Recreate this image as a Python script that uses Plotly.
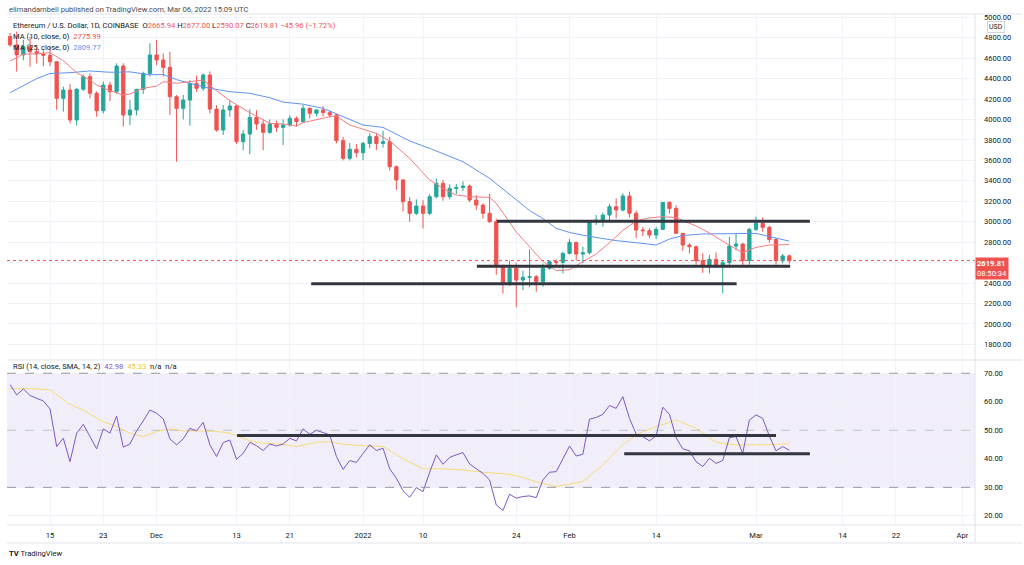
import pandas as pd
import plotly.graph_objects as go

# ---------------- data ----------------
start_date = "2021-11-09"

opens = [4812, 4730, 4632, 4712, 4663, 4641, 4628, 4565, 4207, 4288,
         3995, 4295, 4419, 4256, 4086, 4337, 4272, 4523, 4044, 4093,
         4295, 4451, 4631, 4582, 4510, 4223, 4109, 4190, 4353, 4305,
         4435, 4102, 3897, 4093, 4132, 3783, 3858, 4021, 3956, 3874,
         3956, 3923, 3946, 4011, 3979, 4109, 4060, 4093, 4067, 4044,
         3793, 3620, 3708, 3675, 3766, 3832, 3766, 3783, 3538, 3408,
         3196, 3082, 3154, 3082, 3245, 3375, 3245, 3326, 3335, 3349,
         3212, 3163, 3082, 3000, 2560, 2397, 2544, 2429, 2456, 2462,
         2413, 2544, 2609, 2603, 2690, 2798, 2684, 2697, 3000, 3016,
         3065, 3147, 3114, 3251, 3082, 2919, 2912, 2870, 2925, 3189,
         3130, 2886, 2772, 2756, 2619, 2560, 2632, 2560, 2599, 2762,
         2782, 2619, 2925, 2984, 2945, 2827, 2619, 2665.94]
highs = [4846, 4860, 4780, 4810, 4705, 4690, 4712, 4568, 4321, 4345,
         4310, 4440, 4451, 4275, 4370, 4370, 4549, 4550, 4190, 4300,
         4468, 4745, 4777, 4647, 4663, 4240, 4240, 4385, 4430, 4450,
         4470, 4140, 4142, 4190, 4142, 3900, 4100, 4090, 4000, 4000,
         3990, 4000, 4040, 4030, 4142, 4120, 4100, 4130, 4090, 4060,
         3830, 3770, 3760, 3783, 3864, 3864, 3890, 3830, 3550, 3420,
         3240, 3219, 3210, 3270, 3424, 3408, 3365, 3370, 3395, 3365,
         3260, 3180, 3271, 3030, 2580, 2620, 2600, 2520, 2730, 2480,
         2590, 2620, 2630, 2707, 2830, 2800, 2756, 3010, 3065, 3090,
         3175, 3228, 3278, 3294, 3110, 2950, 2935, 2950, 3190, 3200,
         3160, 2890, 2790, 2765, 2690, 2674, 2700, 2620, 2853, 2880,
         2790, 2940, 3050, 3043, 2960, 2840, 2684, 2677.00]
lows = [4712, 4468, 4580, 4517, 4550, 4520, 4523, 4095, 4076, 3962,
        3940, 4280, 4207, 4027, 4060, 4180, 4250, 3930, 3946, 4040,
        4250, 4420, 4530, 4419, 4044, 3587, 4000, 3940, 4270, 4280,
        4060, 3880, 3848, 4027, 3760, 3700, 3660, 3900, 3700, 3860,
        3880, 3750, 3930, 3930, 3970, 4010, 4030, 4030, 4020, 3766,
        3600, 3600, 3630, 3603, 3718, 3701, 3725, 3500, 3310, 3100,
        3000, 3065, 2935, 3065, 3228, 3206, 3220, 3270, 3300, 3190,
        3115, 3030, 2990, 2480, 2299, 2370, 2162, 2332, 2360, 2315,
        2364, 2530, 2560, 2495, 2680, 2620, 2593, 2680, 2968, 2951,
        3010, 3033, 3100, 3040, 2840, 2860, 2840, 2830, 2920, 3080,
        2880, 2715, 2690, 2580, 2500, 2495, 2550, 2299, 2576, 2720,
        2560, 2580, 2910, 2902, 2795, 2580, 2593, 2590.07]
closes = [4730, 4632, 4712, 4663, 4641, 4628, 4565, 4207, 4288, 3995,
          4295, 4419, 4256, 4086, 4337, 4272, 4523, 4044, 4093, 4295,
          4451, 4631, 4582, 4510, 4223, 4109, 4190, 4353, 4305, 4435,
          4102, 3897, 4093, 4132, 3783, 3858, 4021, 3956, 3874, 3956,
          3923, 3946, 4011, 3979, 4109, 4060, 4093, 4067, 4044, 3793,
          3620, 3708, 3675, 3766, 3832, 3766, 3783, 3538, 3408, 3196,
          3082, 3154, 3082, 3245, 3375, 3245, 3326, 3335, 3349, 3212,
          3163, 3082, 3000, 2560, 2397, 2544, 2429, 2456, 2462, 2413,
          2544, 2609, 2603, 2690, 2798, 2684, 2697, 3000, 3016, 3065,
          3147, 3114, 3251, 3082, 2919, 2912, 2870, 2925, 3189, 3130,
          2886, 2772, 2756, 2619, 2560, 2632, 2560, 2599, 2762, 2782,
          2619, 2925, 2984, 2945, 2827, 2619, 2665, 2619.81]

# moving averages (day index from start_date, value)
ma10_day = [0, 2, 4, 6, 8, 10, 12, 13, 15, 17, 18, 20, 22, 23, 25, 27, 29, 31, 33, 36,
            38, 39, 41, 43, 44, 46, 48, 49, 51, 55, 57, 60, 63, 65, 67, 69, 72, 73, 76,
            78, 80, 82, 84, 86, 88, 90, 92, 94, 96, 98, 100, 103, 105, 108, 110, 112, 114, 117]
ma10_val = [4570, 4640, 4642, 4654, 4575, 4458, 4386, 4337, 4282, 4239, 4249, 4305, 4327,
            4370, 4354, 4370, 4386, 4282, 4184, 4067, 4001, 3962, 3956, 3936, 3969, 4001,
            4027, 4034, 3946, 3864, 3789, 3620, 3408, 3326, 3261, 3245, 3238, 3180, 2900,
            2756, 2610, 2521, 2530, 2610, 2684, 2795, 2915, 3008, 3038, 3049, 3040, 2958,
            2890, 2770, 2697, 2749, 2772, 2776]
ma25_day = [0, 2, 4, 6, 9, 12, 15, 18, 21, 23, 25, 27, 30, 33, 36, 39, 41, 44, 47, 49,
            53, 56, 60, 63, 68, 72, 75, 78, 80, 82, 84, 86, 89, 91, 94, 97, 99, 101, 104,
            108, 112, 114, 117]
ma25_val = [4262, 4330, 4400, 4450, 4458, 4475, 4462, 4466, 4437, 4440, 4390, 4354, 4305,
            4272, 4256, 4213, 4170, 4150, 4109, 4055, 3946, 3923, 3790, 3718, 3587, 3424,
            3265, 3110, 3030, 2935, 2895, 2868, 2835, 2815, 2795, 2772, 2830, 2865, 2880,
            2880, 2886, 2855, 2810]

rsi = [66.0, 62.4, 64.5, 62.2, 61.2, 60.3, 57.5, 44.3, 47.2, 39.0,
       49.0, 52.1, 47.8, 43.5, 50.5, 49.0, 55.0, 44.1, 45.2, 49.8,
       53.3, 57.1, 56.0, 54.0, 47.0, 44.9, 47.0, 50.7, 49.8, 52.8,
       44.9, 40.8, 45.7, 46.6, 39.8, 41.9, 45.8, 44.6, 42.9, 45.2,
       44.5, 45.2, 47.2, 46.3, 50.5, 48.6, 50.0, 49.3, 48.4, 40.8,
       36.3, 39.4, 38.7, 41.9, 44.9, 42.9, 43.7, 36.5, 33.2, 28.8,
       26.5, 29.9, 28.5, 35.3, 41.4, 38.1, 40.5, 41.4, 42.2, 38.2,
       36.7, 34.9, 32.6, 23.8, 21.9, 27.6, 26.2, 26.8, 27.0, 26.4,
       32.6, 35.3, 35.5, 39.8, 44.5, 41.0, 41.6, 53.9, 54.5, 55.6,
       58.7, 57.7, 61.8, 54.2, 48.7, 47.8, 46.3, 48.1, 58.1, 55.6,
       47.4, 43.5, 42.8, 39.0, 37.3, 40.2, 38.4, 39.4, 47.4, 47.8,
       41.9, 53.6, 55.4, 54.2, 48.0, 42.8, 44.3, 42.98]
rsi_ma_day = [0, 3, 6, 9, 11, 14, 16, 18, 20, 22, 24, 26, 28, 31, 33, 36, 38, 41, 43, 46,
              48, 50, 53, 56, 59, 62, 65, 68, 71, 74, 76, 79, 82, 86, 89, 92, 94, 97, 100,
              103, 106, 108, 110, 113, 117]
rsi_ma_val = [64.6, 64.6, 64.2, 59.1, 57.1, 53.0, 51.3, 49.0, 47.8, 49.6, 50.5, 49.8, 49.8,
              49.6, 49.0, 46.3, 45.5, 45.1, 44.3, 45.8, 46.0, 45.1, 44.6, 44.3, 40.0, 36.5,
              36.5, 36.1, 35.3, 34.8, 34.1, 32.0, 30.3, 32.0, 37.9, 44.9, 48.5, 51.3, 53.6,
              50.7, 45.8, 45.1, 44.9, 44.9, 45.3]

# hand-drawn horizontal levels (start, end, value)
price_level_start = ["2022-01-21 02:00", "2022-01-18 02:00", "2021-12-24 05:00"]
price_level_end = ["2022-03-09 02:00", "2022-03-06 03:00", "2022-02-26 02:00"]
price_level_value = [3005, 2565, 2393]
rsi_level_start = ["2021-12-13 02:00", "2022-02-09 05:00"]
rsi_level_end = ["2022-03-04 00:00", "2022-03-09 02:00"]
rsi_level_value = [48.2, 41.8]

tick_dates = ["2021-11-15", "2021-11-23", "2021-12-01", "2021-12-13", "2021-12-21",
              "2022-01-01", "2022-01-10", "2022-01-24", "2022-02-01", "2022-02-14",
              "2022-03-01", "2022-03-14", "2022-03-22", "2022-04-01"]
tick_text = ["15", "23", "Dec", "13", "21", "2022", "10", "24", "Feb", "14", "Mar",
             "14", "22", "Apr"]
price_ticks = [1800, 2000, 2200, 2400, 2600, 2800, 3000, 3200, 3400, 3600, 3800,
               4000, 4200, 4400, 4600, 4800, 5000]
rsi_ticks = [20, 30, 40, 50, 60, 70]
last_price_time = "08:50:34"

# ---------------- styling ----------------
UP = "#26a69a"
DOWN = "#ef5350"
MA10_C = "#f47c80"
MA25_C = "#5f93f3"
RSI_C = "#7e57c2"
RSI_MA_C = "#f5dc78"
GRID = "#f0f3fa"
TXT = "#131722"
FONT = "Roboto, Noto Sans, DejaVu Sans, sans-serif"
LEVEL_C = "#33363f"
FS = 7.6

dates = pd.date_range(start_date, periods=len(closes), freq="D")
ma10_x = [dates[d] for d in ma10_day]
ma25_x = [dates[d] for d in ma25_day]
rsi_ma_x = [dates[d] for d in rsi_ma_day]

# the last-price badge covers the tick label under it, as in the reference
price_tick_text = ["" if abs(t - closes[-1]) < 60 else f"{t:.2f}" for t in price_ticks]

W, H = 1024, 565
ML, MR, MT, MB = 7, 49, 14, 40
PW, PH = W - ML - MR, H - MT - MB


def px_x(px):
    return (px - ML) / PW


def px_y(py):
    return (H - MB - py) / PH


fig = go.Figure()

fig.add_trace(go.Candlestick(
    x=dates, open=opens, high=highs, low=lows, close=closes,
    increasing=dict(line=dict(color=UP, width=1), fillcolor=UP),
    decreasing=dict(line=dict(color=DOWN, width=1), fillcolor=DOWN),
    whiskerwidth=0, xaxis="x", yaxis="y", showlegend=False, hoverinfo="skip"))

fig.add_trace(go.Scatter(x=ma25_x, y=ma25_val, mode="lines", line=dict(color=MA25_C, width=1),
                         xaxis="x", yaxis="y", showlegend=False, hoverinfo="skip"))
fig.add_trace(go.Scatter(x=ma10_x, y=ma10_val, mode="lines", line=dict(color=MA10_C, width=1),
                         xaxis="x", yaxis="y", showlegend=False, hoverinfo="skip"))

for s, e, v in zip(price_level_start, price_level_end, price_level_value):
    fig.add_trace(go.Scatter(x=[s, e], y=[v, v], mode="lines",
                             line=dict(color=LEVEL_C, width=3),
                             xaxis="x", yaxis="y", showlegend=False, hoverinfo="skip"))

fig.add_trace(go.Scatter(x=rsi_ma_x, y=rsi_ma_val, mode="lines", line=dict(color=RSI_MA_C, width=1),
                         xaxis="x2", yaxis="y2", showlegend=False, hoverinfo="skip"))
fig.add_trace(go.Scatter(x=dates, y=rsi, mode="lines", line=dict(color=RSI_C, width=1),
                         xaxis="x2", yaxis="y2", showlegend=False, hoverinfo="skip"))
for s, e, v in zip(rsi_level_start, rsi_level_end, rsi_level_value):
    fig.add_trace(go.Scatter(x=[s, e], y=[v, v], mode="lines",
                             line=dict(color=LEVEL_C, width=3),
                             xaxis="x2", yaxis="y2", showlegend=False, hoverinfo="skip"))

x_range = ["2021-11-08 13:00", "2022-04-02 21:00"]
main_dom = [px_y(359), 1.0]
rsi_dom = [0.0, px_y(361)]
price_range = [1657, 5032]
rsi_range = [16.8, 74.3]

shapes = [
    dict(type="rect", xref="paper", yref="y2", x0=0, x1=1, y0=30, y1=70,
         fillcolor="rgba(126,87,194,0.10)", line=dict(width=0), layer="below"),
    dict(type="line", xref="paper", yref="y2", x0=0, x1=1, y0=70, y1=70,
         line=dict(color="#9598a1", width=1, dash="dash")),
    dict(type="line", xref="paper", yref="y2", x0=0, x1=1, y0=50, y1=50,
         line=dict(color="rgba(149,152,161,0.5)", width=1, dash="dash")),
    dict(type="line", xref="paper", yref="y2", x0=0, x1=1, y0=30, y1=30,
         line=dict(color="#9598a1", width=1, dash="dash")),
    dict(type="line", xref="paper", yref="y", x0=0, x1=1, y0=closes[-1], y1=closes[-1],
         line=dict(color=DOWN, width=1, dash="dot")),
    dict(type="line", xref="paper", yref="paper", x0=0, x1=px_x(1022), y0=px_y(360), y1=px_y(360),
         line=dict(color="#e0e3eb", width=1)),
    dict(type="line", xref="paper", yref="paper", x0=0, x1=px_x(1022), y0=0, y1=0,
         line=dict(color="#e0e3eb", width=1)),
    dict(type="line", xref="paper", yref="paper", x0=0, x1=px_x(1022), y0=px_y(543), y1=px_y(543),
         line=dict(color="#e0e3eb", width=1)),
    dict(type="line", xref="paper", yref="paper", x0=0, x1=px_x(1022), y0=1, y1=1,
         line=dict(color="#e0e3eb", width=1)),
    dict(type="line", xref="paper", yref="paper", x0=1, x1=1, y0=px_y(543), y1=1,
         line=dict(color="#e0e3eb", width=1)),
]


def red(t):
    return f"<span style='color:{DOWN}'>{t}</span>"


sym_text = ("Ethereum / U.S. Dollar, 1D, COINBASE  O" + red("2665.94") + " H" + red("2677.00")
            + " L" + red("2590.07") + " C" + red("2619.81") + " " + red("−45.96 (−1.72%)"))

annotations = [
    dict(text="elimandambell published on TradingView.com, Mar 06, 2022 15:09 UTC",
         xref="paper", yref="paper", x=px_x(7), y=px_y(9), xanchor="left", yanchor="middle",
         showarrow=False, font=dict(size=FS, color="#4a4a4a", family=FONT)),
    dict(text=sym_text, xref="paper", yref="paper", x=px_x(11), y=px_y(25),
         xanchor="left", yanchor="middle", showarrow=False,
         font=dict(size=FS, color=TXT, family=FONT)),
    dict(text="MA (10, close, 0)  " + red("2775.99"), xref="paper", yref="paper",
         x=px_x(11), y=px_y(36), xanchor="left", yanchor="middle", showarrow=False,
         font=dict(size=FS, color=TXT, family=FONT)),
    dict(text=f"MA (25, close, 0)  <span style='color:{MA25_C}'>2809.77</span>",
         xref="paper", yref="paper", x=px_x(11), y=px_y(47), xanchor="left", yanchor="middle",
         showarrow=False, font=dict(size=FS, color=TXT, family=FONT)),
    dict(text=(f"RSI (14, close, SMA, 14, 2)  <span style='color:{RSI_C}'>42.98</span>  "
               f"<span style='color:#ecc93a'>45.33</span>  n/a  n/a"),
         xref="paper", yref="paper", x=px_x(11), y=px_y(366), xanchor="left", yanchor="middle",
         showarrow=False, font=dict(size=FS, color=TXT, family=FONT)),
    dict(text="<b>TV</b> TradingView", xref="paper", yref="paper", x=px_x(7), y=px_y(553),
         xanchor="left", yanchor="middle", showarrow=False,
         font=dict(size=FS, color="#131722", family=FONT)),
    dict(text="USD", xref="paper", yref="paper", x=px_x(996), y=px_y(27),
         xanchor="center", yanchor="middle", showarrow=False,
         font=dict(size=7, color=TXT, family=FONT), bordercolor="#d1d4dc", borderwidth=1,
         borderpad=1, bgcolor="white"),
    dict(text=f"<b>{closes[-1]:.2f}</b><br>{last_price_time}", xref="paper", yref="y",
         x=1, y=closes[-1], xanchor="left", yanchor="top", yshift=4, showarrow=False,
         align="left", bgcolor=DOWN, font=dict(size=7.6, color="white", family=FONT),
         borderpad=1),
]

fig.update_layout(
    width=W, height=H, margin=dict(l=ML, r=MR, t=MT, b=MB),
    paper_bgcolor="white", plot_bgcolor="white",
    font=dict(family=FONT, color=TXT, size=8),
    showlegend=False,
    xaxis=dict(domain=[0, 1], anchor="y", range=x_range, type="date",
               tickvals=tick_dates, ticktext=tick_text, showticklabels=False,
               showgrid=True, gridcolor=GRID, gridwidth=1, zeroline=False,
               rangeslider=dict(visible=False), fixedrange=True),
    xaxis2=dict(domain=[0, 1], anchor="y2", matches="x", range=x_range, type="date",
                tickvals=tick_dates, ticktext=tick_text, showticklabels=True,
                tickfont=dict(size=7.6, color=TXT, family=FONT), ticklabelstandoff=4,
                showgrid=True, gridcolor=GRID, gridwidth=1, zeroline=False, ticks=""),
    yaxis=dict(domain=main_dom, anchor="x", side="right", range=price_range,
               tickvals=price_ticks, ticktext=price_tick_text, showgrid=True, gridcolor=GRID,
               zeroline=False, ticks="", ticklabelstandoff=8,
               tickfont=dict(size=7.5, color=TXT, family=FONT)),
    yaxis2=dict(domain=rsi_dom, anchor="x2", side="right", range=rsi_range,
                tickvals=rsi_ticks, tickformat=".2f", showgrid=True, gridcolor=GRID,
                zeroline=False, ticks="", ticklabelstandoff=8,
                tickfont=dict(size=7.5, color=TXT, family=FONT)),
    shapes=shapes,
    annotations=annotations,
)

fig.write_html("out.html", config={"displayModeBar": False},
               post_script="document.body.style.margin='0px';")
